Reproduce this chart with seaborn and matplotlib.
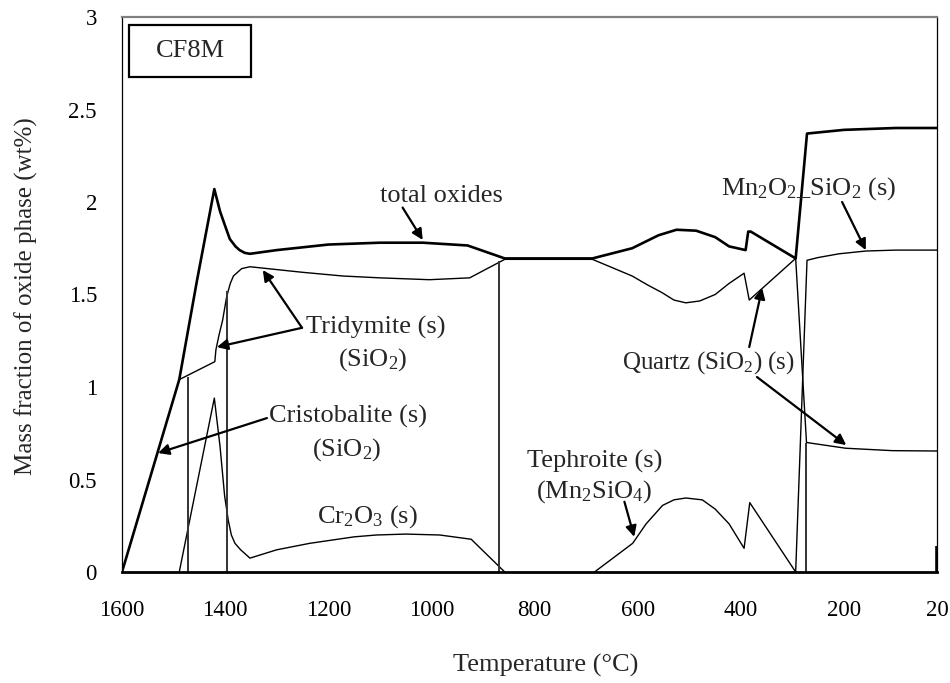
import matplotlib
matplotlib.use("Agg")
import matplotlib.pyplot as plt
from matplotlib.patches import Rectangle
import seaborn as sns
import pandas as pd

# ---------------- data ----------------
total_T = [1600, 1489, 1455, 1421, 1410, 1400, 1391, 1380, 1372, 1362, 1352, 1300, 1200, 1100,
           1017, 930, 858, 688, 611, 560, 525, 487, 450, 423, 391, 386, 381, 294, 272, 200, 100, 20]
total_v = [0.0, 1.04, 1.57, 2.07, 1.95, 1.87, 1.80, 1.76, 1.74, 1.725, 1.72, 1.74, 1.77, 1.78,
           1.78, 1.765, 1.695, 1.695, 1.75, 1.82, 1.85, 1.845, 1.81, 1.76, 1.74, 1.84, 1.84, 1.695,
           2.37, 2.39, 2.40, 2.40]

silica_T = [1489, 1420, 1418, 1412, 1405, 1397, 1390, 1384, 1368, 1352, 1250, 1172, 1100, 1004,
            926, 858, 688, 611, 580, 553, 530, 507, 480, 450, 423, 394, 384, 294, 273, 197, 107, 20]
silica_v = [1.04, 1.137, 1.20, 1.28, 1.36, 1.49, 1.56, 1.60, 1.64, 1.65, 1.62, 1.60, 1.59, 1.58,
            1.59, 1.69, 1.69, 1.60, 1.55, 1.51, 1.47, 1.455, 1.465, 1.50, 1.56, 1.615, 1.47, 1.695,
            0.70, 0.669, 0.656, 0.654]

cr_T = [1489, 1421, 1410, 1401, 1394, 1388, 1381, 1370, 1362, 1352, 1300, 1236, 1150, 1107,
        1050, 984, 923, 858]
cr_v = [0.0, 0.94, 0.68, 0.41, 0.28, 0.20, 0.155, 0.12, 0.10, 0.075, 0.12, 0.155, 0.19, 0.20,
        0.205, 0.20, 0.177, 0.0]

teph_T = [684, 610, 584, 552, 530, 507, 475, 450, 423, 394, 383, 294]
teph_v = [0.0, 0.155, 0.26, 0.36, 0.39, 0.40, 0.39, 0.34, 0.26, 0.128, 0.375, 0.0]

mnsi_T = [294, 272, 250, 210, 158, 100, 20]
mnsi_v = [0.0, 1.685, 1.70, 1.72, 1.735, 1.74, 1.74]

drop_T = [1473, 1397, 870, 273]
drop_v = [1.055, 1.52, 1.68, 0.70]

spike_T = [20]
spike_v = [0.14]

x_ticks = [1600, 1400, 1200, 1000, 800, 600, 400, 200, 20]
y_ticks = [0, 0.5, 1, 1.5, 2, 2.5, 3]
y_ticklabels = ["0", "0.5", "1", "1.5", "2", "2.5", "3"]

# ---------------- style ----------------
sns.set_theme(style="white")
plt.rcParams["font.family"] = ["Liberation Serif", "DejaVu Serif"]
plt.rcParams["mathtext.fontset"] = "custom"
plt.rcParams["mathtext.rm"] = "Liberation Serif"
plt.rcParams["mathtext.it"] = "Liberation Serif:italic"
plt.rcParams["mathtext.default"] = "regular"
FS_TICK = 16.5
FS = 19

W, H = 950, 683
fig = plt.figure(figsize=(W / 100, H / 100), dpi=100)
L, R, T, B = 122, 937, 17, 572
ax = fig.add_axes([L / W, 1 - B / H, (R - L) / W, (B - T) / H])

def line(xs, ys, lw):
    df = pd.DataFrame({"T": xs, "v": ys})
    sns.lineplot(data=df, x="T", y="v", sort=False, estimator=None, color="black",
                 linewidth=lw, ax=ax, legend=False)

line(cr_T, cr_v, 1.0)
line(teph_T, teph_v, 1.0)
line(silica_T, silica_v, 1.0)
line(mnsi_T, mnsi_v, 1.0)
ax.vlines(drop_T, 0, drop_v, colors="#333333", linewidth=1.4)
ax.vlines(spike_T, 0, spike_v, colors="black", linewidth=2.6)
line(total_T, total_v, 1.9)

ax.set_xlim(1600, 20)
ax.set_ylim(0, 3)
ax.set_xticks(x_ticks)
ax.set_xticklabels([str(t) for t in x_ticks])
ax.set_yticks(y_ticks)
ax.set_yticklabels(y_ticklabels)
ax.set_xlabel("")
ax.set_ylabel("")
ax.tick_params(axis="x", direction="out", length=6, width=1.2, pad=14, labelsize=FS_TICK, colors="black")
ax.tick_params(axis="y", direction="out", length=6, width=1.0, pad=12, labelsize=FS_TICK, colors="black")

for s in ax.spines.values():
    s.set_visible(True)
ax.spines["bottom"].set_linewidth(2.0)
ax.spines["bottom"].set_color("black")
ax.spines["left"].set_linewidth(0.9)
ax.spines["left"].set_color("black")
ax.spines["right"].set_linewidth(0.9)
ax.spines["right"].set_color("black")
ax.spines["top"].set_linewidth(1.6)
ax.spines["top"].set_color("#808080")

fig.text(546 / W, 1 - 665 / H, "Temperature (°C)", ha="center", va="center", fontsize=FS)
fig.text(26 / W, 1 - 296 / H, "Mass fraction of oxide phase (wt%)", ha="center", va="center",
         rotation=90, fontsize=18)

# CF8M box
ax.add_patch(Rectangle((0.0086, 0.892), 0.1497, 0.0936, transform=ax.transAxes,
                       facecolor="white", edgecolor="black", linewidth=1.6, zorder=5))
ax.text(0.0834, 0.9387, "CF8M", transform=ax.transAxes, ha="center", va="center",
        fontsize=FS, zorder=6)

arrow = dict(arrowstyle="-|>", color="black", lw=1.6, mutation_scale=16, shrinkA=0, shrinkB=0)

def arr(tail, head):
    ax.annotate("", xy=head, xytext=tail, arrowprops=arrow)

ax.text(981, 2.03, "total oxides", ha="center", va="center", fontsize=FS)
arr((1056, 1.97), (1017, 1.795))

ax.text(1108, 1.32, "Tridymite (s)", ha="center", va="center", fontsize=FS)
ax.text(1114, 1.146, "(SiO$_2$)", ha="center", va="center", fontsize=FS)
arr((1251, 1.32), (1416, 1.216))
arr((1251, 1.32), (1327, 1.632))

ax.text(1162, 0.84, "Cristobalite (s)", ha="center", va="center", fontsize=FS)
ax.text(1164, 0.66, "(SiO$_2$)", ha="center", va="center", fontsize=FS)
arr((1319, 0.832), (1530, 0.643))

ax.text(1124, 0.30, "Cr$_2$O$_3$ (s)", ha="center", va="center", fontsize=FS)

ax.text(684, 0.596, "Tephroite (s)", ha="center", va="center", fontsize=FS)
ax.text(684, 0.434, "(Mn$_2$SiO$_4$)", ha="center", va="center", fontsize=FS)
arr((626, 0.38), (607, 0.19))

ax.text(295, 1.13, "Quartz (SiO$_2$) (s)", ha="right", va="center", fontsize=18)
arr((384, 1.216), (359, 1.535))
arr((369, 1.054), (196, 0.686))

ax.text(268, 2.075, "Mn$_2$O$_2$_SiO$_2$ (s)", ha="center", va="center", fontsize=FS)
arr((204, 2.0), (158, 1.74))

fig.savefig("out.png", dpi=100)
